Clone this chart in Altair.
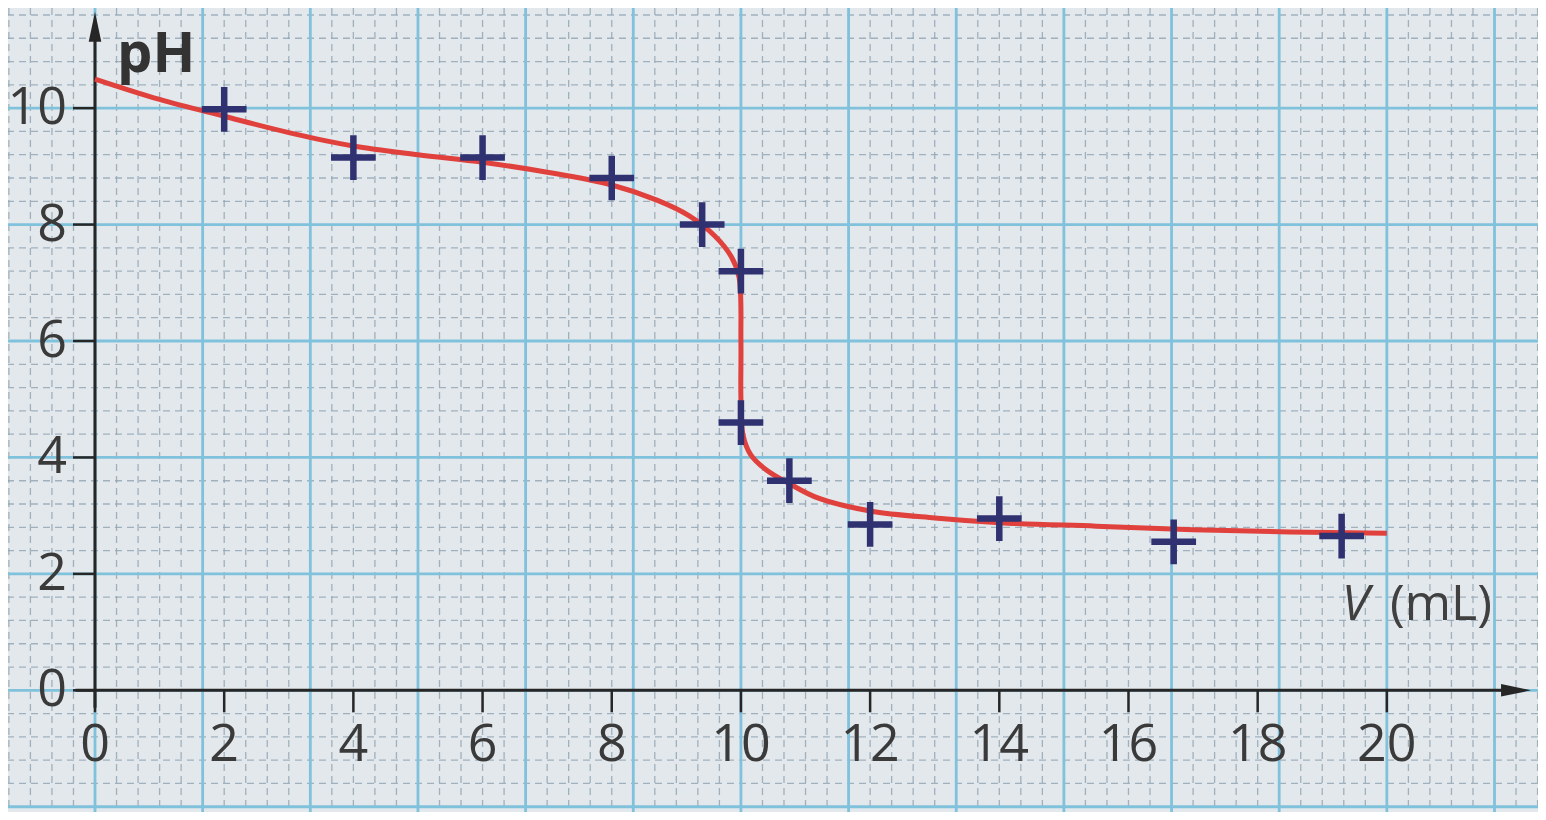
import altair as alt
import pandas as pd

# ---- data ----
# red fitted curve (volume in mL, pH)
curve_v = [0, 1, 2, 3, 4, 5, 6, 7, 8, 8.7, 9.2, 9.6, 9.85, 9.97, 10.0, 10.0,
           10.03, 10.15, 10.4, 10.75, 11.2, 12.0, 13.0, 14.0, 15.5, 17.0, 18.5, 20.0]
curve_ph = [10.5, 10.15, 9.86, 9.58, 9.35, 9.2, 9.07, 8.9, 8.68, 8.42, 8.15, 7.8,
            7.45, 7.1, 6.0, 5.0, 4.4, 4.05, 3.78, 3.55, 3.3, 3.08, 2.96, 2.88,
            2.82, 2.76, 2.72, 2.7]

# measured points (+ markers)
meas_v = [2, 4, 6, 8, 9.4, 10, 10, 10.75, 12, 14, 16.7, 19.3]
meas_ph = [9.98, 9.15, 9.15, 8.8, 8.0, 7.2, 4.6, 3.6, 2.85, 2.95, 2.55, 2.65]

# tick labels
x_ticks = [0, 2, 4, 6, 8, 10, 12, 14, 16, 18, 20]
y_ticks = [0, 2, 4, 6, 8, 10]
x_tick_labels = [str(t) for t in x_ticks]
y_tick_labels = [str(t) for t in y_ticks]

# graph-paper grid (1 cm squares = 5/3 mL by 2 pH, subdivided in 5)
major_x = [k * 5 / 3 for k in range(-1, 15)]
minor_x = [k / 3 for k in range(-5, 70) if k % 5 != 0]
major_y = [2 * k for k in range(-1, 7)]
minor_y = [0.4 * k for k in range(-6, 31) if k % 5 != 0]

# axis line extents
x_axis_line = [-0.3, 22.0]
y_axis_line = [-0.3, 11.4]

# ---- layout ----
W, H = 1530, 804
X_DOM = [-1.347, 22.34]
Y_DOM = [-2.09, 11.72]

xs = alt.Scale(domain=X_DOM, nice=False, zero=False)
ys = alt.Scale(domain=Y_DOM, nice=False, zero=False)

FONT = "Open Sans"
PAPER = "#e3e8ec"
INK = "#262626"
LABEL = "#3a3a3a"

curve_df = pd.DataFrame({"v": curve_v, "ph": curve_ph, "i": list(range(len(curve_v)))})
meas_df = pd.DataFrame({"v": meas_v, "ph": meas_ph})
xt_df = pd.DataFrame({"v": x_ticks, "t": x_tick_labels, "ph": [0] * len(x_ticks)})
yt_df = pd.DataFrame({"ph": y_ticks, "t": y_tick_labels, "v": [0] * len(y_ticks)})

X = lambda f="v:Q": alt.X(f, scale=xs, axis=None)
Y = lambda f="ph:Q": alt.Y(f, scale=ys, axis=None)


def vrules(vals, **kw):
    return alt.Chart(pd.DataFrame({"v": vals})).mark_rule(**kw).encode(x=X())


def hrules(vals, **kw):
    return alt.Chart(pd.DataFrame({"ph": vals})).mark_rule(**kw).encode(y=Y())


minor_style = dict(color="#8ea3b2", strokeWidth=1.3, strokeDash=[7, 5], opacity=0.8)
major_style = dict(color="#80c1dc", strokeWidth=2.8)

grid = [
    vrules(minor_x, **minor_style),
    hrules(minor_y, **minor_style),
    vrules(major_x, **major_style),
    hrules(major_y, **major_style),
]

xline = alt.Chart(pd.DataFrame({"v": [x_axis_line[0]], "v2": [x_axis_line[1]], "ph": [0]})).mark_rule(
    color=INK, strokeWidth=3).encode(x=X(), x2="v2:Q", y=Y())
yline = alt.Chart(pd.DataFrame({"v": [0], "ph": [y_axis_line[0]], "ph2": [y_axis_line[1]]})).mark_rule(
    color=INK, strokeWidth=3).encode(x=X(), y=Y(), y2="ph2:Q")

x_arrow = alt.Chart(pd.DataFrame({"v": [x_axis_line[1]], "ph": [0]})).mark_point(
    shape="M 1 0 L -1 -0.42 L -1 0.42 Z", size=900, filled=True, color=INK, opacity=1).encode(
    x=X(), y=Y())
y_arrow = alt.Chart(pd.DataFrame({"v": [0], "ph": [y_axis_line[1]]})).mark_point(
    shape="M 0 -1 L 0.42 1 L -0.42 1 Z", size=900, filled=True, color=INK, opacity=1).encode(
    x=X(), y=Y())

# tick marks and tick labels
x_tick_marks = alt.Chart(xt_df).mark_tick(
    orient="vertical", size=22, thickness=2.5, color=INK, yOffset=11, opacity=1).encode(
    x=X(), y=Y())
y_tick_marks = alt.Chart(yt_df).mark_tick(
    orient="horizontal", size=22, thickness=2.5, color=INK, xOffset=-11, opacity=1).encode(
    x=X(), y=Y())
x_tick_text = alt.Chart(xt_df).mark_text(
    align="center", baseline="top", dy=30, font=FONT, fontSize=52, color=LABEL).encode(
    x=X(), y=Y(), text="t:N")
y_tick_text = alt.Chart(yt_df).mark_text(
    align="right", baseline="middle", dx=-28, font=FONT, fontSize=52, color=LABEL).encode(
    x=X(), y=Y(), text="t:N")

curve = alt.Chart(curve_df).mark_line(color="#e0413d", strokeWidth=5, interpolate="catmull-rom").encode(
    x=X(), y=Y(), order="i:Q")

points = alt.Chart(meas_df).mark_point(
    shape="M -1 0 L 1 0 M 0 -1 L 0 1", size=2000, strokeWidth=6.5, color="#2f3170",
    filled=False, opacity=1).encode(x=X(), y=Y())

ph_label = alt.Chart(pd.DataFrame({"t": ["pH"]})).mark_text(
    align="left", baseline="alphabetic", font=FONT, fontSize=56, fontWeight="bold",
    color="#333333").encode(x=alt.datum(0.34), y=alt.datum(10.62), text="t:N")
v_label = alt.Chart(pd.DataFrame({"t": ["V"]})).mark_text(
    align="left", baseline="alphabetic", font=FONT, fontSize=50, fontStyle="italic",
    color="#404040").encode(x=alt.datum(19.3), y=alt.datum(1.2), text="t:N")
ml_label = alt.Chart(pd.DataFrame({"t": ["(mL)"]})).mark_text(
    align="left", baseline="alphabetic", font=FONT, fontSize=50,
    color="#404040").encode(x=alt.datum(20.05), y=alt.datum(1.2), text="t:N")

chart = alt.layer(
    *grid, xline, yline, x_arrow, y_arrow,
    x_tick_marks, y_tick_marks, x_tick_text, y_tick_text,
    curve, points, ph_label, v_label, ml_label
).properties(
    width=W, height=H, padding=0, background=PAPER,
    autosize=alt.AutoSizeParams(type="none"),
).configure_view(stroke=None, fill=PAPER)

chart.save("out.html", embed_options={"renderer": "svg", "actions": False})
